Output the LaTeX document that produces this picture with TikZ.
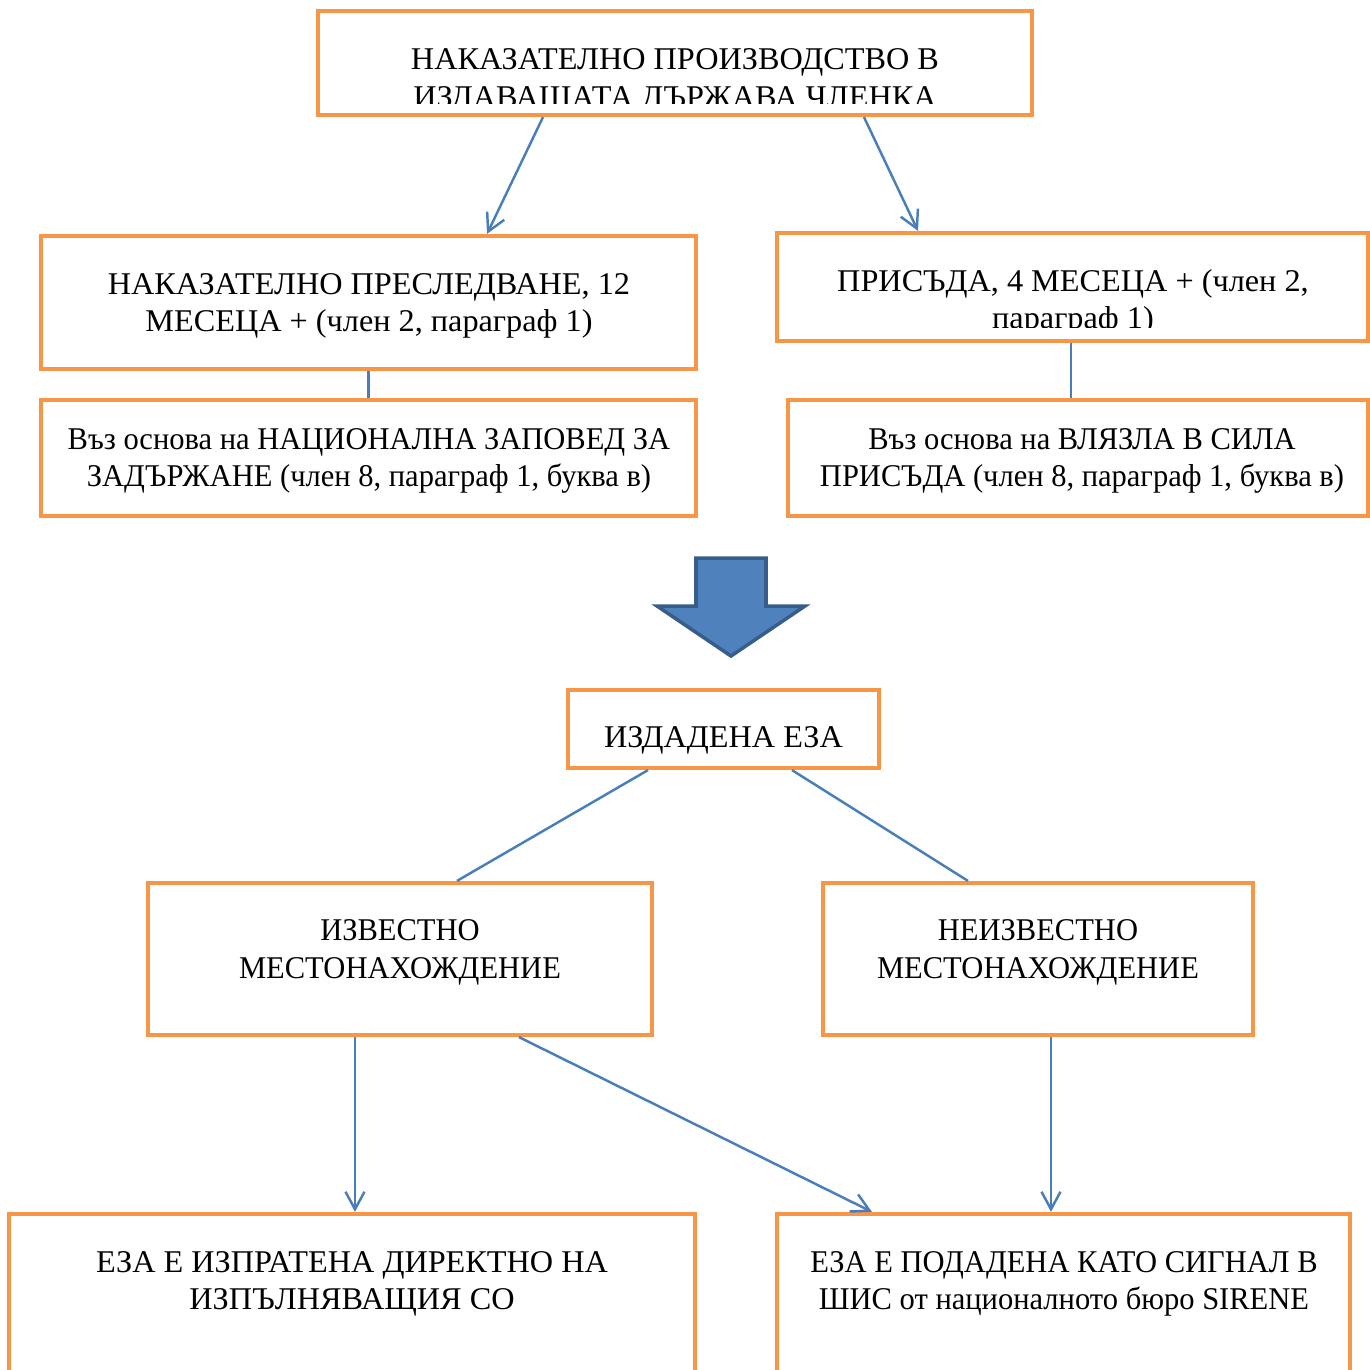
\documentclass[tikz,border=0pt]{standalone}
\usepackage{fontspec}
\setmainfont[FakeStretch=0.965]{Liberation Serif}
\newfontfamily\widefont[FakeStretch=1.02]{Liberation Serif}
\usepackage{xcolor}
\definecolor{boxorange}{HTML}{F79646}
\definecolor{linkblue}{HTML}{4A7EBB}
\definecolor{bigfill}{HTML}{4F81BD}
\definecolor{bigedge}{HTML}{385D8A}
\usetikzlibrary{arrows.meta,calc}

\begin{document}
\begin{tikzpicture}[x=1cm,y=-1cm,
  box/.style={draw=boxorange,line width=1.2pt,inner sep=0pt},
  txt/.style={align=center,inner sep=0pt,font=\fontsize{9}{10.7}\selectfont},
  wtxt/.style={txt,font=\widefont\fontsize{9}{10.7}\selectfont},
  link/.style={draw=linkblue,line width=0.7pt},
  arr/.style={link,-{Straight Barb[length=5pt,width=5.4pt]}}]
  \clip (0,0) rectangle (13.7,13.7);

  % boxes
  \node[box,minimum width=7.14cm,minimum height=1.04cm] (top) at (6.75,0.63) {};
  \node[box,minimum width=6.55cm,minimum height=1.33cm] (pros) at (3.685,3.025) {};
  \node[box,minimum width=5.91cm,minimum height=1.08cm] (sent) at (10.725,2.87) {};
  \node[box,minimum width=6.55cm,minimum height=1.16cm] (warL) at (3.685,4.58) {};
  \node[box,minimum width=5.80cm,minimum height=1.16cm] (warR) at (10.78,4.58) {};
  \node[box,minimum width=3.11cm,minimum height=0.78cm] (eza) at (7.235,7.29) {};
  \node[box,minimum width=5.04cm,minimum height=1.52cm] (known) at (4.0,9.59) {};
  \node[box,minimum width=4.30cm,minimum height=1.52cm] (unknown) at (10.38,9.59) {};
  \node[box,minimum width=6.86cm,minimum height=2.06cm] (sendL) at (3.52,13.17) {};
  \node[box,minimum width=5.73cm,minimum height=2.06cm] (sigR) at (10.635,13.17) {};

  % texts
  \begin{scope}
    \clip (3.2,0.2) rectangle (10.3,1.03);
    \node[wtxt] (topT) at (6.75,0.815) {НАКАЗАТЕЛНО ПРОИЗВОДСТВО В\\ИЗДАВАЩАТА ДЪРЖАВА ЧЛЕНКА};
  \end{scope}
  \node[wtxt] (prosT) at (3.69,3.06) {НАКАЗАТЕЛНО ПРЕСЛЕДВАНЕ, 12\\МЕСЕЦА + (член 2, параграф 1)};
  \begin{scope}
    \clip (7.8,2.4) rectangle (13.6,3.27);
    \node[wtxt] (sentT) at (10.73,3.025) {ПРИСЪДА, 4 МЕСЕЦА + (член 2,\\параграф 1)};
  \end{scope}
  \node[txt] (warLT) at (3.69,4.61) {Въз основа на НАЦИОНАЛНА ЗАПОВЕД ЗА\\ЗАДЪРЖАНЕ (член 8, параграф 1, буква в)};
  \node[txt] (warRT) at (10.82,4.61) {Въз основа на ВЛЯЗЛА В СИЛА\\ПРИСЪДА (член 8, параграф 1, буква в)};
  \node[wtxt] (ezaT) at (7.235,7.40) {ИЗДАДЕНА ЕЗА};
  \node[txt] (knownT) at (4.0,9.525) {ИЗВЕСТНО\\МЕСТОНАХОЖДЕНИЕ};
  \node[txt] (unknownT) at (10.38,9.525) {НЕИЗВЕСТНО\\МЕСТОНАХОЖДЕНИЕ};
  \node[wtxt] (sendLT) at (3.52,12.84) {ЕЗА Е ИЗПРАТЕНА ДИРЕКТНО НА\\ИЗПЪЛНЯВАЩИЯ СО};
  \node[txt] (sigRT) at (10.64,12.84) {ЕЗА Е ПОДАДЕНА КАТО СИГНАЛ В\\ШИС от националното бюро SIRENE};

  % big arrow
  \draw[fill=bigfill,draw=bigedge,line width=1pt,line join=miter]
    (6.96,5.58) -- (7.66,5.58) -- (7.66,6.06) -- (8.05,6.06) -- (7.31,6.56)
    -- (6.57,6.06) -- (6.96,6.06) -- cycle;

  % connectors
  \draw[arr] ([xshift=-1.32cm]top.south) -- ([xshift=1.185cm]pros.north);
  \draw[arr] ([xshift=1.89cm]top.south) -- ([xshift=-1.545cm]sent.north);
  \draw[link] (pros.south) -- (warL.north);
  \draw[link] ([xshift=-0.015cm]sent.south) -- ([xshift=-0.015cm]sent.south |- warR.north);
  \draw[link] ([xshift=-0.755cm]eza.south) -- ([xshift=0.57cm]known.north);
  \draw[link] ([xshift=0.685cm]eza.south) -- ([xshift=-0.70cm]unknown.north);
  \draw[arr] ([xshift=-0.45cm]known.south) -- ([xshift=-0.45cm]known.south |- sendL.north);
  \draw[arr] ([xshift=1.19cm]known.south) -- ([xshift=-1.915cm]sigR.north);
  \draw[arr] ([xshift=0.13cm]unknown.south) -- ([xshift=0.13cm]unknown.south |- sigR.north);
\end{tikzpicture}
\end{document}
